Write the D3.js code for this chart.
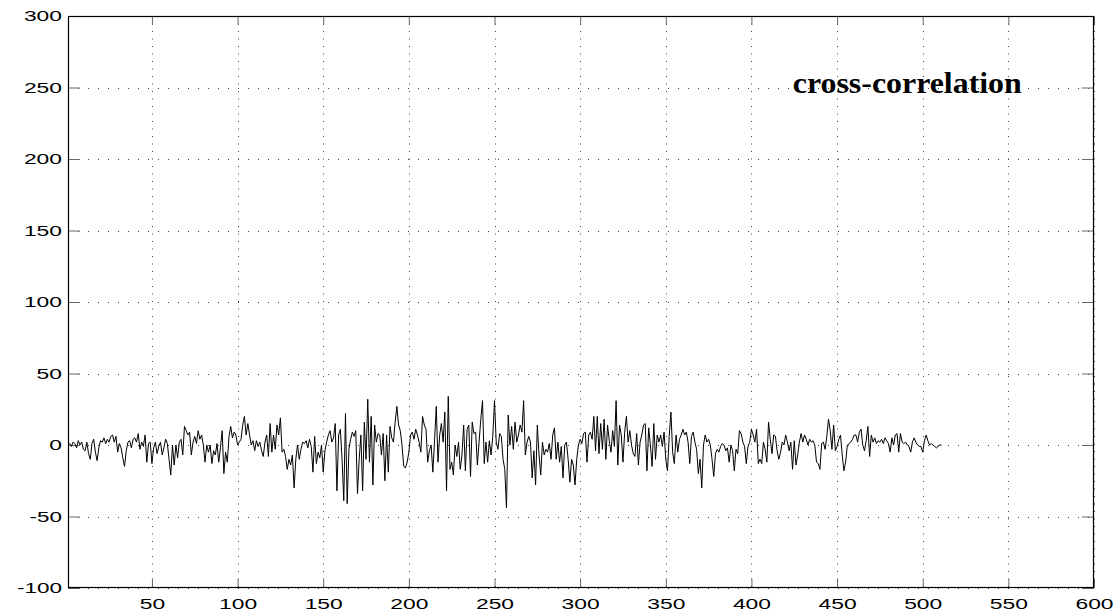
<!DOCTYPE html>
<html>
<head>
<meta charset="utf-8">
<script src="https://cdnjs.cloudflare.com/ajax/libs/d3/7.8.5/d3.min.js"></script>
<style>
  body { margin: 0; background: #fff; }
  svg { display: block; }
  .tick text { font-family: "Liberation Sans", Arial, sans-serif; font-size: 15.5px; fill: #000; }
</style>
</head>
<body>
<svg id="chart"></svg>
<script>
// lag ticks and value ticks
const xTicks = [50, 100, 150, 200, 250, 300, 350, 400, 450, 500, 550, 600];
const yTicks = [-100, -50, 0, 50, 100, 150, 200, 250, 300];
const title = "cross-correlation";

// cross-correlation values, lag 1..511
const xcorr = [
  0, 1, -1, 2, 1, -2, 3, 0, 2, -3,
  -4, 2, -6, -10, 1, 4, -5, -11, -2, 3,
  2, 5, 1, 4, 2, 6, 7, 2, 6, -5,
  1, -2, -9, -15, -4, 2, 3, -2, 4, 5,
  2, 8, -3, 2, -1, 7, -12, 1, 2, -13,
  -2, 2, -6, -1, 2, -7, -2, 4, 1, -10,
  -21, 0, -14, 0, -9, 2, 4, -7, 13, 10,
  7, 9, -7, 2, 6, 1, 10, 4, 7, 0,
  -12, 0, -5, 0, -13, -4, -7, 1, -12, -2,
  10, -20, -5, -12, 6, 13, 5, 9, 7, 0,
  2, 4, 14, 20, 7, 15, 7, 0, 3, -4,
  3, -1, 2, -4, -8, 2, 7, -8, 15, -5,
  7, -3, 14, 7, 19, -5, -3, -8, -17, -10,
  -14, -7, -30, -10, 0, -10, -3, 2, 1, 3,
  -2, 4, -1, -19, 6, -13, -5, -9, 0, -19,
  -4, 2, 7, 10, 2, 5, 15, -32, 7, 11,
  -10, -39, 22, -41, -3, 4, 9, 6, 10, -34,
  -10, 7, -32, 16, -10, 32, -12, 20, -28, 14,
  2, 8, 7, -7, 8, -25, 7, -19, 13, 5,
  2, 16, 27, 14, 10, 0, -15, -16, -12, -5,
  7, 9, 4, 11, 7, 2, -5, 20, 14, 11,
  -12, -4, 0, -19, 3, 27, -12, 7, 15, 2,
  23, -32, 34, -17, -12, -21, 0, -8, 2, -17,
  -7, 14, -18, 11, 14, -22, 16, 8, 9, -14,
  2, 18, 31, -13, 2, -12, 3, -7, 6, 31,
  2, -3, 8, 6, -10, -17, -44, 21, 0, 13,
  -3, 16, 2, 7, 14, 9, 31, -7, 2, 6,
  2, -23, -4, -28, 14, -7, -21, 2, -7, -3,
  -5, 1, -10, 7, 12, -10, 2, -12, -1, -23,
  0, 2, -10, -26, -10, -14, -28, -10, 0, 4,
  1, 8, 9, -12, 7, 9, 4, 20, -4, 20,
  -6, 15, -3, 18, -10, 14, 3, -5, 10, -1,
  31, -14, 14, 7, -12, 9, 20, 2, 10, 0,
  -6, -8, 8, -14, 2, 7, 14, 15, -18, 12,
  0, -15, 15, -10, 7, 2, 7, -1, 9, -10,
  -18, 6, 23, -5, -13, 7, -5, 4, 7, 11,
  7, 9, 2, -13, 6, 9, 2, -3, -20, -10,
  -30, 0, 7, 2, 4, 0, -10, -22, -6, -3,
  -5, -1, 1, 0, -4, -2, -12, 0, -4, -18,
  -3, -6, 10, 8, 2, -1, -13, -1, 2, 11,
  7, 2, 11, -13, -10, -13, 2, -3, -12, 16,
  4, -6, 7, 6, -4, -10, -5, 2, 0, 7,
  2, -4, 2, -17, 3, -14, -7, 2, 8, 2,
  7, 4, 0, 4, 2, 3, 0, -12, -13, -17,
  1, 2, -3, 6, 18, 10, -3, 14, -4, -1,
  4, 7, -7, -18, -12, 0, 1, 2, 4, 7,
  7, 2, 9, 11, 0, -4, 3, 13, -8, 7,
  2, 5, 1, 3, 2, 4, 1, 5, 3, 1,
  -5, 5, 0, 7, 8, -5, 8, 2, 1, 2,
  0, -1, -5, 2, 5, 2, 0, -1, -1, -5,
  3, 7, 3, 0, 1, 0, -1, -2, -1, 0, 0
];

let width = 1119,
  height = 616,
  margin = { top: 16, right: 25, bottom: 28, left: 68 },
  svg = d3.select("#chart").attr("width", width).attr("height", height);

let x = d3.scaleLinear().domain([1, 600]).range([margin.left, width - margin.right]);
let y = d3.scaleLinear().domain([-100, 300]).range([height - margin.bottom, margin.top]);

// dotted grid
let grid = svg.append("g").attr("stroke", "#444").attr("stroke-width", 1);
grid.selectAll(".gx")
  .data(xTicks)
  .enter()
  .append("line")
  .attr("x1", (d) => Math.round(x(d)) + 0.5)
  .attr("x2", (d) => Math.round(x(d)) + 0.5)
  .attr("y1", y(300))
  .attr("y2", y(-100))
  .attr("stroke-dasharray", "1,6.5");
grid.selectAll(".gy")
  .data(yTicks)
  .enter()
  .append("line")
  .attr("y1", (d) => Math.round(y(d)) + 0.5)
  .attr("y2", (d) => Math.round(y(d)) + 0.5)
  .attr("x1", x(1))
  .attr("x2", x(600))
  .attr("stroke-dasharray", "1,9");

// label width stretched like the original
let labelLen = (s) => s.replace("-", "").length * 12.7 + (s[0] == "-" ? 7 : 0);

// axes, ticks inside the box
let fmt = (d) => String(d);
let xAxis = svg.append("g")
  .attr("transform", "translate(0," + y(-100) + ")")
  .call(d3.axisBottom(x).tickValues(xTicks).tickSize(-9).tickPadding(10).tickFormat(fmt));
let yAxis = svg.append("g")
  .attr("transform", "translate(" + x(1) + ",0)")
  .call(d3.axisLeft(y).tickValues(yTicks).tickSize(-12).tickPadding(6).tickFormat(fmt));
svg.append("g")
  .attr("transform", "translate(0," + y(300) + ")")
  .call(d3.axisTop(x).tickValues(xTicks).tickSize(-9).tickFormat(""));
svg.append("g")
  .attr("transform", "translate(" + x(600) + ",0)")
  .call(d3.axisRight(y).tickValues(yTicks).tickSize(-12).tickFormat(""));

svg.selectAll(".domain").remove();
svg.selectAll(".tick line").attr("stroke", "#666");
svg.selectAll(".tick text")
  .attr("textLength", function () { return labelLen(this.textContent); })
  .attr("lengthAdjust", "spacingAndGlyphs");

// frame
svg.append("rect")
  .attr("x", x(1) + 0.5)
  .attr("y", y(300) + 0.5)
  .attr("width", x(600) - x(1) - 1)
  .attr("height", y(-100) - y(300) - 1)
  .attr("fill", "none")
  .attr("stroke", "#000")
  .attr("stroke-width", 1.2);

// the series
let line = d3.line()
  .x((d, i) => x(i + 1))
  .y((d) => y(d));
svg.append("path")
  .datum(xcorr)
  .attr("fill", "none")
  .attr("stroke", "#000")
  .attr("stroke-width", 1)
  .attr("d", line);

// annotation
svg.append("text")
  .attr("x", x(491))
  .attr("y", y(250) + 5)
  .attr("text-anchor", "middle")
  .attr("font-family", "'Liberation Serif', 'Times New Roman', serif")
  .attr("font-weight", "bold")
  .attr("font-size", 29)
  .attr("textLength", 229)
  .attr("lengthAdjust", "spacingAndGlyphs")
  .text(title);
</script>
</body>
</html>
